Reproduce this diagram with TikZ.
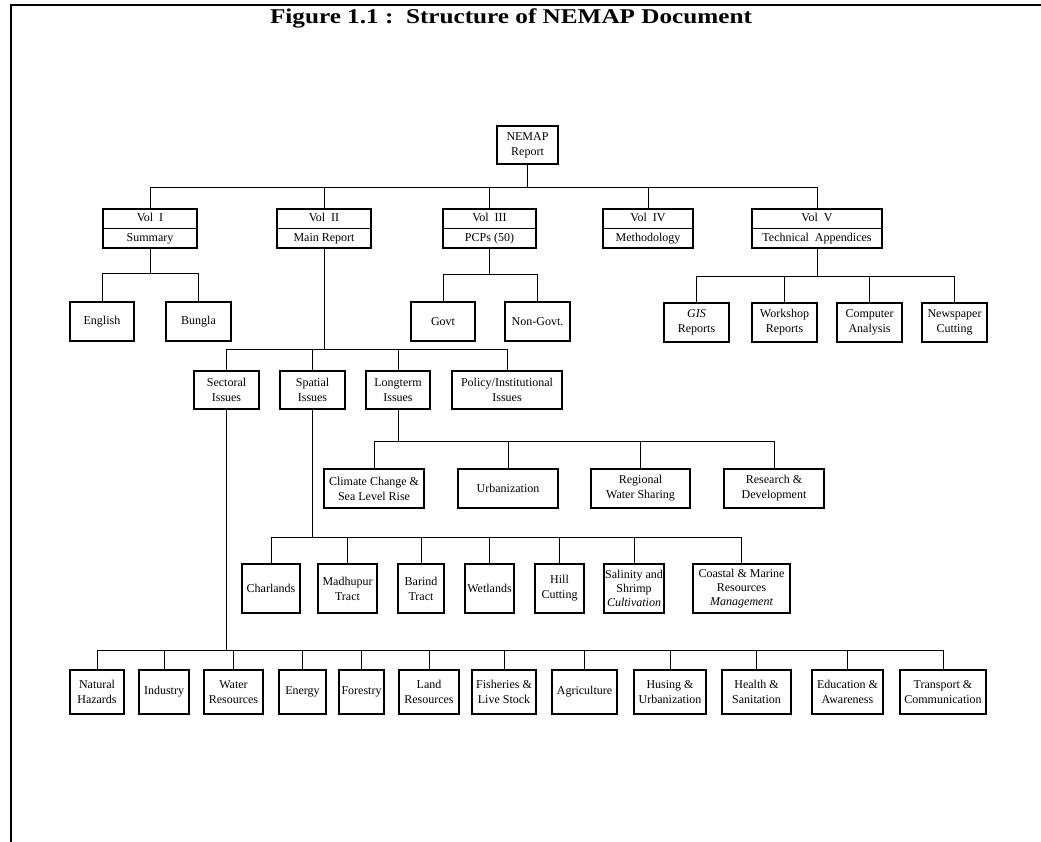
\documentclass[tikz,border=0pt]{standalone}
\usepackage{fontspec}
\setmainfont{Liberation Serif}
\begin{document}
\begin{tikzpicture}[x=1pt,y=-1pt,
  box/.style={draw, line width=1.3pt, inner sep=1pt, align=center,
    font=\fontsize{12}{15}\selectfont},
  vol/.style={box, font=\fontsize{12}{20}\selectfont},
  conn/.style={line width=1pt},
  frame/.style={line width=1.4pt},
  titletext/.style={font=\fontsize{21}{24}\selectfont\bfseries}]
\useasboundingbox (0,0) rectangle (1041,842);
\draw[frame] (1041,5) -- (11,5) -- (11,842);
\node[titletext] (title) at (511,18) {\scalebox{1.2}[1]{Figure 1.1 :\ \ Structure of NEMAP Document}};

% root
\node[box, minimum width=61, minimum height=38] (nemap) at (527.5,145) {NEMAP\\Report};

% volumes
\node[vol, minimum width=94, minimum height=39] (v1) at (150,228.5) {Vol\ \ I\\Summary};
\node[vol, minimum width=94, minimum height=39] (v2) at (324,228.5) {Vol\ \ II\\Main Report};
\node[vol, minimum width=93, minimum height=39] (v3) at (489.5,228.5) {Vol\ \ III\\PCPs (50)};
\node[vol, minimum width=90, minimum height=39] (v4) at (648,228.5) {Vol\ \ IV\\Methodology};
\node[vol, minimum width=130, minimum height=39] (v5) at (817,228.5) {Vol\ \ V\\Technical\ \ Appendices};
\foreach \v in {v1,v2,v3,v4,v5} \draw[line width=1.1pt] (\v.west) -- (\v.east);

\coordinate (b0) at (527.5,188);
\draw[conn] (nemap.south) -- (b0);
\draw[conn] (v1.north) |- (v5.north |- b0) -- (v5.north);
\foreach \v in {v2,v3,v4} \draw[conn] (\v.north) -- (\v.north |- b0);

% Vol I children
\node[box, minimum width=64, minimum height=39] (eng) at (102,321.5) {English};
\node[box, minimum width=65, minimum height=39] (bng) at (198.5,321.5) {Bungla};
\coordinate (b1) at (150,274);
\draw[conn] (v1.south) -- (b1);
\draw[conn] (eng.north) |- (bng.north |- b1) -- (bng.north);

% Vol III children
\node[box, minimum width=64, minimum height=39] (govt) at (443,321.5) {Govt};
\node[box, minimum width=65, minimum height=39] (ngovt) at (537.5,321.5) {Non-Govt.};
\coordinate (b3) at (489.5,275);
\draw[conn] (v3.south) -- (b3);
\draw[conn] (govt.north) |- (ngovt.north |- b3) -- (ngovt.north);

% Vol V children
\node[box, minimum width=65, minimum height=39] (gis) at (696.5,322.5) {\itshape GIS\\Reports};
\node[box, minimum width=65, minimum height=39] (wsr) at (784.5,322.5) {Workshop\\Reports};
\node[box, minimum width=65, minimum height=39] (cpa) at (869.5,322.5) {Computer\\Analysis};
\node[box, minimum width=65, minimum height=39] (npc) at (954.5,322.5) {Newspaper\\Cutting};
\coordinate (b5) at (817,277);
\draw[conn] (v5.south) -- (b5);
\draw[conn] (gis.north) |- (npc.north |- b5) -- (npc.north);
\foreach \v in {wsr,cpa} \draw[conn] (\v.north) -- (\v.north |- b5);

% Vol II children: issues
\node[box, minimum width=65, minimum height=38] (sec) at (226.5,390) {Sectoral\\Issues};
\node[box, minimum width=65, minimum height=38] (spa) at (312.5,390) {Spatial\\Issues};
\node[box, minimum width=64, minimum height=38] (lng) at (398,390) {Longterm\\Issues};
\node[box, minimum width=110, minimum height=38] (pol) at (507,390) {Policy/Institutional\\Issues};
\coordinate (b2) at (324,349);
\draw[conn] (v2.south) -- (b2);
\draw[conn] (sec.north) |- (pol.north |- b2) -- (pol.north);
\foreach \v in {spa,lng} \draw[conn] (\v.north) -- (\v.north |- b2);

% Longterm children
\node[box, minimum width=100, minimum height=39] (clim) at (374,488.5) {Climate Change \&\\Sea Level Rise};
\node[box, minimum width=100, minimum height=39] (urb) at (508,488.5) {Urbanization};
\node[box, minimum width=99, minimum height=39] (rws) at (640.5,488.5) {Regional\\Water Sharing};
\node[box, minimum width=100, minimum height=39] (rnd) at (774,488.5) {Research \&\\Development};
\coordinate (bl) at (398,441);
\draw[conn] (lng.south) -- (bl);
\draw[conn] (clim.north) |- (rnd.north |- bl) -- (rnd.north);
\foreach \v in {urb,rws} \draw[conn] (\v.north) -- (\v.north |- bl);

% Spatial children
\node[box, minimum width=58, minimum height=49] (chr) at (271,588.5) {Charlands};
\node[box, minimum width=59, minimum height=49] (mdt) at (347.5,588.5) {Madhupur\\Tract};
\node[box, minimum width=46, minimum height=49] (brt) at (421,588.5) {Barind\\Tract};
\node[box, minimum width=49, minimum height=49, inner sep=0pt] (wet) at (489.5,588.5) {Wetlands};
\node[box, minimum width=49, minimum height=49] (hil) at (559.5,588.5) {Hill\\Cutting};
\node[box, minimum width=60, minimum height=49, inner sep=0pt, font=\fontsize{12}{14}\selectfont] (sal) at (634,588.5) {Salinity and\\Shrimp\\\itshape Cultivation};
\node[box, minimum width=97, minimum height=49, font=\fontsize{12}{14}\selectfont] (cst) at (741.5,588.5) {Coastal \& Marine\\Resources\\\itshape Management};
\coordinate (bs) at (312.5,537);
\draw[conn] (spa.south) -- (bs);
\draw[conn] (chr.north) |- (cst.north |- bs) -- (cst.north);
\foreach \v in {mdt,brt,wet,hil,sal} \draw[conn] (\v.north) -- (\v.north |- bs);

% Sectoral children
\node[box, minimum width=54, minimum height=44] (nh) at (97,692) {Natural\\Hazards};
\node[box, minimum width=50, minimum height=44] (ind) at (164,692) {Industry};
\node[box, minimum width=59, minimum height=44] (wr) at (233.5,692) {Water\\Resources};
\node[box, minimum width=47, minimum height=44] (en) at (302.5,692) {Energy};
\node[box, minimum width=45, minimum height=44, inner sep=0pt] (fo) at (361.5,692) {Forestry};
\node[box, minimum width=60, minimum height=44] (lr) at (429,692) {Land\\Resources};
\node[box, minimum width=64, minimum height=44] (fl) at (504,692) {Fisheries \&\\Live Stock};
\node[box, minimum width=65, minimum height=44] (ag) at (584.5,692) {Agriculture};
\node[box, minimum width=72, minimum height=44] (hu) at (670,692) {Husing \&\\Urbanization};
\node[box, minimum width=69, minimum height=44] (hs) at (756.5,692) {Health \&\\Sanitation};
\node[box, minimum width=71, minimum height=44] (ea) at (847.5,692) {Education \&\\Awareness};
\node[box, minimum width=86, minimum height=44] (tc) at (943,692) {Transport \&\\Communication};
\coordinate (bc) at (226.5,650);
\draw[conn] (sec.south) -- (bc);
\draw[conn] (nh.north) |- (tc.north |- bc) -- (tc.north);
\foreach \v in {ind,wr,en,fo,lr,fl,ag,hu,hs,ea} \draw[conn] (\v.north) -- (\v.north |- bc);
\end{tikzpicture}
\end{document}
